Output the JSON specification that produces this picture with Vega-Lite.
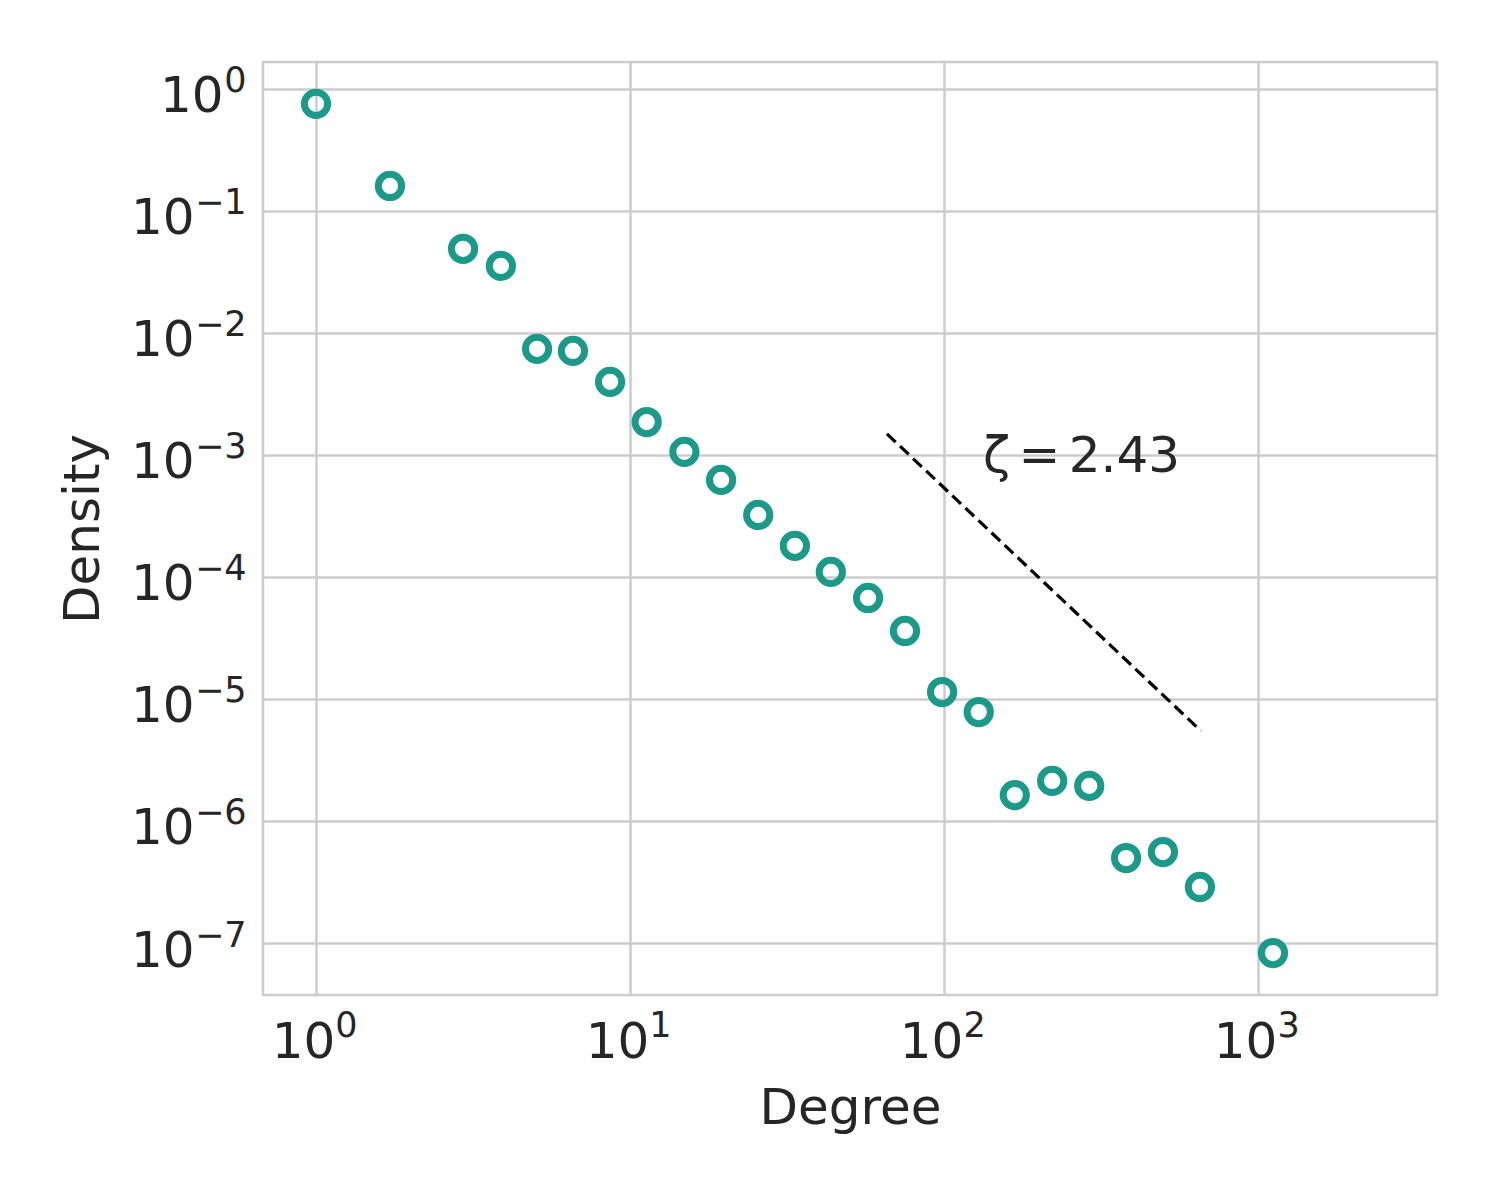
{
  "$schema": "https://vega.github.io/schema/vega-lite/v6.json",
  "width": 1174,
  "height": 933,
  "autosize": {"type": "none"},
  "padding": {"left": 263, "top": 62, "right": 63, "bottom": 205},
  "background": "white",
  "config": {
    "font": "DejaVu Sans",
    "view": {"stroke": "#cccccc", "strokeWidth": 2.5},
    "axis": {
      "grid": true,
      "gridColor": "#cccccc",
      "gridWidth": 2.5,
      "domain": false,
      "ticks": false,
      "labelFont": "DejaVu Sans",
      "labelFontSize": 50,
      "labelColor": "#262626",
      "labelOverlap": false,
      "titleFont": "DejaVu Sans",
      "titleFontSize": 50,
      "titleFontWeight": "normal",
      "titleColor": "#262626"
    }
  },
  "resolve": {"axis": {"x": "independent", "y": "independent"}},
  "datasets": {
    "points": [
      {"degree": 1, "density": 0.754},
      {"degree": 1.72, "density": 0.160},
      {"degree": 2.94, "density": 0.0489},
      {"degree": 3.88, "density": 0.0354},
      {"degree": 5.06, "density": 0.0074},
      {"degree": 6.58, "density": 0.00712},
      {"degree": 8.64, "density": 0.00397},
      {"degree": 11.3, "density": 0.00186},
      {"degree": 14.9, "density": 0.00106},
      {"degree": 19.5, "density": 0.000624},
      {"degree": 25.6, "density": 0.000322},
      {"degree": 33.5, "density": 0.000180},
      {"degree": 43.6, "density": 0.000110},
      {"degree": 57.3, "density": 0.0000673},
      {"degree": 75.1, "density": 0.0000361},
      {"degree": 98.6, "density": 0.0000114},
      {"degree": 129, "density": 0.00000782},
      {"degree": 168, "density": 0.00000163},
      {"degree": 221, "density": 0.00000213},
      {"degree": 290, "density": 0.00000194},
      {"degree": 380, "density": 0.000000497},
      {"degree": 498, "density": 0.000000557},
      {"degree": 653, "density": 0.000000288},
      {"degree": 1116, "density": 0.0000000828}
    ],
    "fit": [
      {"degree": 65.8, "density": 0.00149},
      {"degree": 658, "density": 0.00000547}
    ],
    "note": [
      {"degree": 133, "density": 0.000726, "label": "ζ\u2006=\u20062.43"}
    ]
  },
  "layer": [
    {
      "data": {"name": "points"},
      "mark": {"type": "point", "shape": "circle", "filled": false, "stroke": "#1b9a8a", "strokeWidth": 7, "size": 540, "opacity": 1},
      "encoding": {
        "x": {
          "field": "degree", "type": "quantitative",
          "scale": {"type": "log", "domain": [0.678, 3715], "nice": false, "zero": false},
          "axis": {
            "orient": "bottom",
            "title": "Degree",
            "values": [1, 10, 100, 1000],
            "labelExpr": "'10'",
            "labelAlign": "center",
            "labelBaseline": "middle",
            "labelOffset": -13,
            "labelPadding": 47,
            "titlePadding": 16
          }
        },
        "y": {
          "field": "density", "type": "quantitative",
          "scale": {"type": "log", "domain": [3.75e-8, 1.66], "nice": false, "zero": false},
          "axis": {
            "orient": "left",
            "title": "Density",
            "values": [1e-7, 1e-6, 1e-5, 1e-4, 1e-3, 1e-2, 1e-1, 1],
            "labelExpr": "'10'",
            "labelAlign": "right",
            "labelBaseline": "middle",
            "labelOffset": 8,
            "labelPadding": {"condition": {"test": "datum.value >= 0.5", "value": 40}, "value": 69},
            "titlePadding": 22
          }
        }
      }
    },
    {
      "data": {"name": "fit"},
      "mark": {"type": "line", "color": "black", "strokeWidth": 3.2, "strokeDash": [12, 6]},
      "encoding": {
        "x": {"field": "degree", "type": "quantitative", "axis": null},
        "y": {"field": "density", "type": "quantitative", "axis": null}
      }
    },
    {
      "data": {"name": "note"},
      "mark": {"type": "text", "align": "left", "baseline": "alphabetic", "fontSize": 50, "font": "DejaVu Sans", "color": "#262626"},
      "encoding": {
        "x": {
          "field": "degree", "type": "quantitative",
          "axis": {
            "orient": "bottom",
            "title": null,
            "grid": false,
            "values": [1, 10, 100, 1000],
            "labelExpr": "(round(log(datum.value)/LN10) < 0 ? '−' : '') + abs(round(log(datum.value)/LN10))",
            "labelFontSize": 35,
            "labelAlign": "center",
            "labelBaseline": "middle",
            "labelOffset": 30,
            "labelPadding": 30
          }
        },
        "y": {
          "field": "density", "type": "quantitative",
          "axis": {
            "orient": "left",
            "title": null,
            "grid": false,
            "values": [1e-7, 1e-6, 1e-5, 1e-4, 1e-3, 1e-2, 1e-1, 1],
            "labelExpr": "(round(log(datum.value)/LN10) < 0 ? '−' : '') + abs(round(log(datum.value)/LN10))",
            "labelFontSize": 35,
            "labelAlign": "right",
            "labelBaseline": "middle",
            "labelOffset": -8,
            "labelPadding": 17
          }
        },
        "text": {"field": "label"}
      }
    }
  ]
}
